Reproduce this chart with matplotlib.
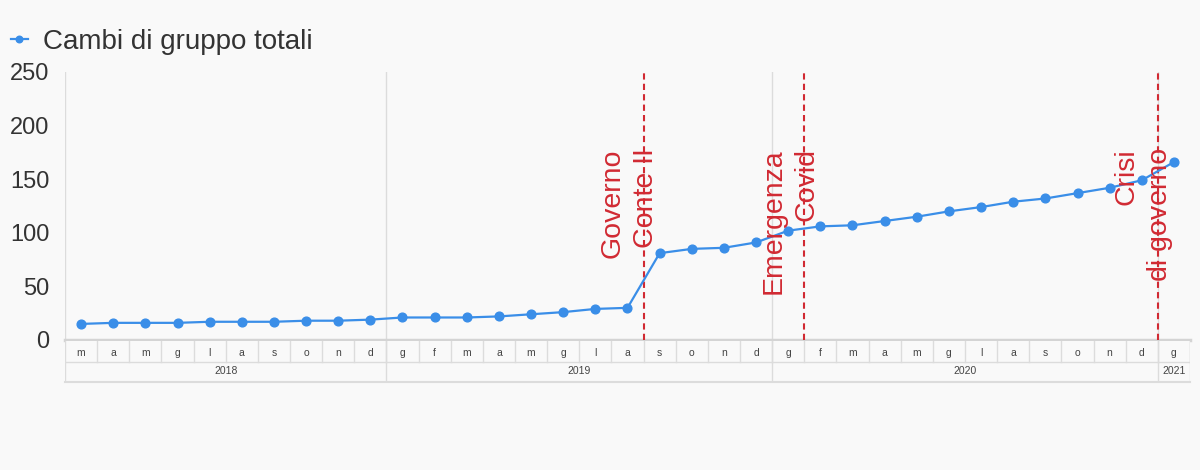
import matplotlib.pyplot as plt
from matplotlib import transforms

plt.rcParams['font.family'] = ['Liberation Sans', 'DejaVu Sans']

# ─── DATA ─────────────────────────────────────────────────────────────────────
MONTHS = ['m', 'a', 'm', 'g', 'l', 'a', 's', 'o', 'n', 'd',
          'g', 'f', 'm', 'a', 'm', 'g', 'l', 'a', 's', 'o', 'n', 'd',
          'g', 'f', 'm', 'a', 'm', 'g', 'l', 'a', 's', 'o', 'n', 'd',
          'g']
YEARS = ['2018', '2019', '2020', '2021']
YEAR_COUNTS = [10, 12, 12, 1]
VALUES = [15, 16, 16, 16, 17, 17, 17, 18, 18, 19,
          21, 21, 21, 22, 24, 26, 29, 30, 81, 85, 86, 91,
          102, 106, 107, 111, 115, 120, 124, 129, 132, 137, 142, 149,
          166]
SERIES = 'Cambi di gruppo totali'

# events: placed between two months (index of month before + 0.5)
EVENT_POS = [17.5, 22.5, 33.5]
EVENT_LABELS = ['Governo\nConte II', 'Emergenza\nCovid', 'Crisi\ndi governo']

# ─── STYLE ────────────────────────────────────────────────────────────────────
BG = '#f9f9f9'
BLUE = '#3a8ee8'
RED = '#d12a33'
GRID = '#dcdcdc'
TXT = '#333333'

W, H = 1200, 470
fig = plt.figure(figsize=(W / 100, H / 100), dpi=100, facecolor=BG)

def frac(x0, y0, x1, y1):
    return [x0 / W, 1 - y1 / H, (x1 - x0) / W, (y1 - y0) / H]

ax = fig.add_axes(frac(65, 72, 1190, 340))
axc = fig.add_axes(frac(65, 341, 1190, 382))
for a in (ax, axc):
    a.set_facecolor(BG)
    for s in a.spines.values():
        s.set_visible(False)

n = len(VALUES)
x = list(range(n))
year_bounds = []
acc = 0
for c in YEAR_COUNTS:
    acc += c
    year_bounds.append(acc - 0.5)

# ── main plot ────────────────────────────────────────────────────────────────
ax.set_xlim(-0.5, n - 0.5)
ax.set_ylim(0, 250)
ax.set_yticks([0, 50, 100, 150, 200, 250])
ax.tick_params(axis='y', length=0, pad=11, labelsize=17, labelcolor=TXT)
ax.set_xticks([])
ax.axvline(-0.5, color=GRID, lw=1)
for b in year_bounds[:-1]:
    ax.axvline(b, color=GRID, lw=1, zorder=1)
ax.axhline(0, color='#d4d4d4', lw=2.5, zorder=2, clip_on=False)

ax.plot(x, VALUES, color=BLUE, lw=1.6, marker='o', markersize=6.3,
        zorder=4, label=SERIES)

for pos, lab in zip(EVENT_POS, EVENT_LABELS):
    ax.axvline(pos, color=RED, lw=1.5, linestyle=(0, (3, 2)), zorder=3)
    tr = transforms.offset_copy(ax.transData, fig=fig, x=15, y=0, units='dots')
    ax.text(pos, 179, lab, rotation=90, ha='right', va='top',
            multialignment='right', color=RED, fontsize=20.5,
            linespacing=1.35, transform=tr, zorder=5)

# ── category axis (months / years) ───────────────────────────────────────────
axc.set_xlim(-0.5, n - 0.5)
axc.set_ylim(0, 2)
axc.set_xticks([])
axc.set_yticks([])
for i, m in enumerate(MONTHS):
    axc.text(i, 1.4, m, ha='center', va='center', fontsize=7.5, color='#444444')
    axc.plot([i + 0.5, i + 0.5], [1, 2], color=GRID, lw=1)
start = -0.5
for yr, b in zip(YEARS, year_bounds):
    axc.text((start + b) / 2, 0.55, yr, ha='center', va='center',
             fontsize=7.5, color='#444444')
    axc.plot([b, b], [0, 2], color=GRID, lw=1)
    start = b
axc.plot([-0.5, -0.5], [0, 2], color=GRID, lw=1)
axc.plot([-0.5, n - 0.5], [1, 1], color=GRID, lw=1)
axc.plot([-0.5, n - 0.5], [0, 0], color=GRID, lw=1.5, clip_on=False)

# ── legend ───────────────────────────────────────────────────────────────────
leg = fig.legend(loc='center left', bbox_to_anchor=(0.0, 1 - 42 / H), frameon=False,
                 fontsize=20, handlelength=0.6, handletextpad=0.55,
                 labelcolor=TXT, borderaxespad=0.2, borderpad=0.2,
                 markerscale=0.75)

fig.savefig('out.png', dpi=100, facecolor=BG)
